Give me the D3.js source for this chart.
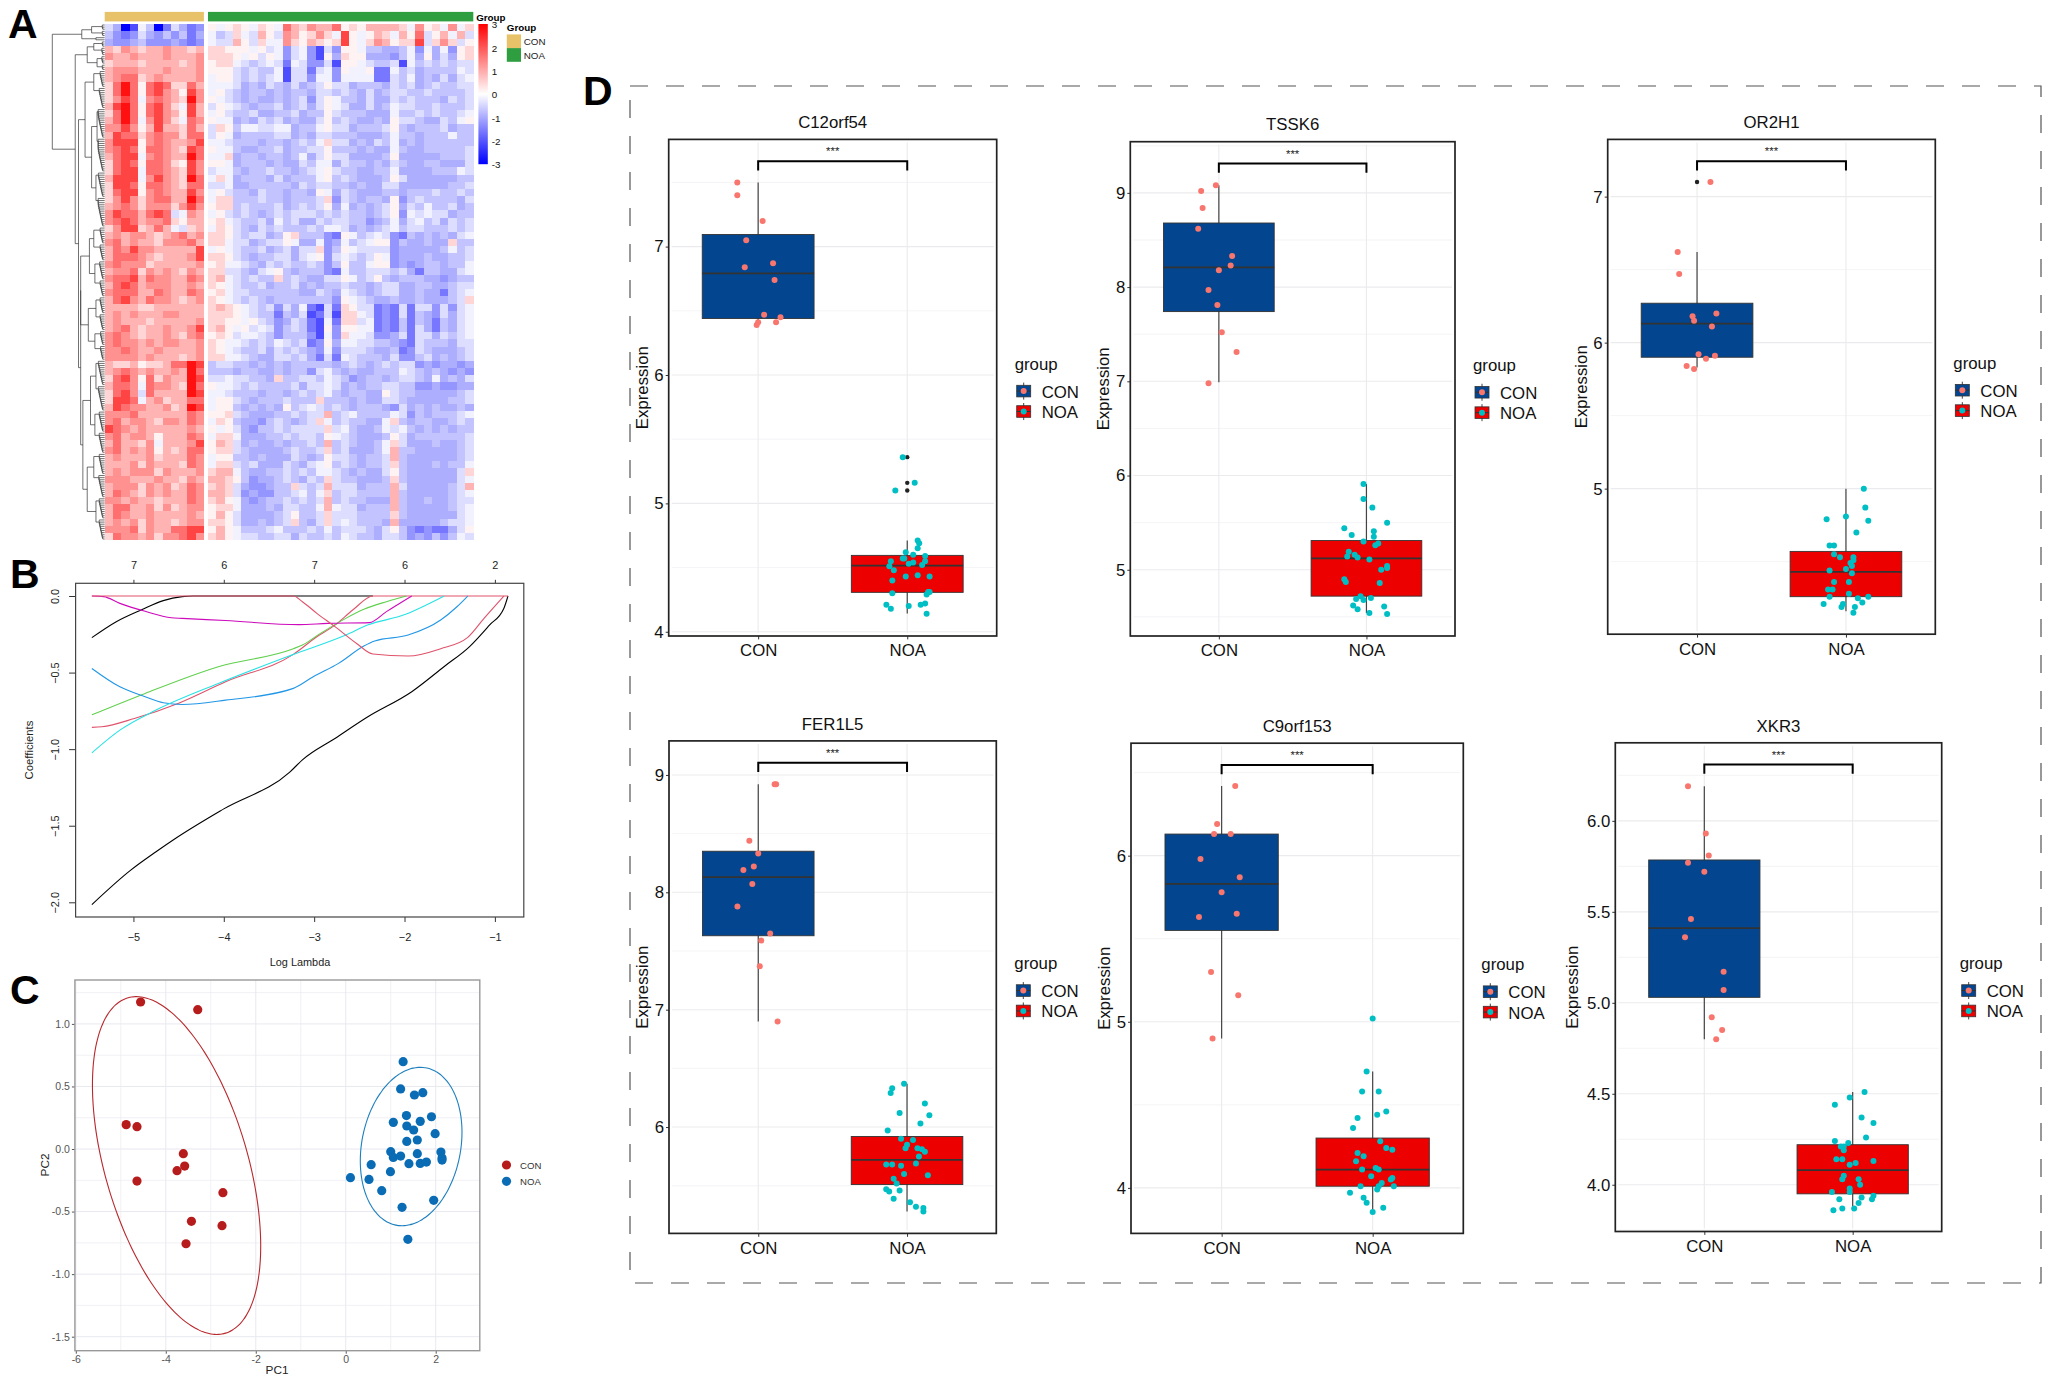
<!DOCTYPE html>
<html>
<head>
<meta charset="utf-8">
<style>
  body { margin: 0; background: #fff; }
  text { font-family: "Liberation Sans", Arial, sans-serif; }
</style>
<script src="https://cdn.jsdelivr.net/npm/d3@7"></script>
</head>
<body>
<svg id="fig" width="2050" height="1382"></svg>
<script>
// ---- panel A data
var heatLetters = "abcdefghijklmno";
var heatLevels = [-3, -2.1, -1.6, -1.25, -0.95, -0.7, -0.4, -0.15, 0.15, 0.5, 0.9, 1.3, 1.7, 2.2, 2.8];
// one string per row band: 12 CON samples then 32 NOA samples
var heatRows = [
  "geab hfac gecd ihij ihji hmkj lkkm ijik kkkj hlij hlhj",
  "fdcd gedf dfce hfgj hgki glki jljh nihi kjhk imgi khkg",
  "edde fddd edcd hggk igjh hlji kjij nihj lkij jngj ljgi",
  "kjlk jkkl kkjk jjii ihig hdgh dbgd iihf feef hdhe hdij",
  "lkkl kkkl kkkl jjji higi hdgh dbie jiie eedf heie geij",
  "jkkk jkkk kjkl ijjh gfgh gchg ddgb iihg ffgb hfgf gfgg",
  "klll kkkl kkkl iiig fgff hbgg cghd ihhi cchf geff ffhg",
  "klmm jklk kkkl hiig fgfg hbgg dhhd hhhh ccgf hefe gegh",
  "jmom imnm jjmk hhhg efeg fege fgig geff fegf gefg ffgg",
  "jmom imnl kinl higf effe feff eggf gfeg efgg ffgf fffg",
  "jlnm hlml kjol ihgf efee fefg dgih ffeg eegf gfff egfg",
  "knom imnl jhnk gihg feff gefg egih geeg efhg gffg fffg",
  "jmom imnl kink higf fgee ffge ffig fffe eehf fgfg ffgh",
  "kmom hlnl jhml ihhe fegf gefe egif gfee feig gfee gfhi",
  "llnl iknk kjmk gjif hhgg hhef fhig geff fgif efff geff",
  "knmm jlml ljmm gihe ffff ggef eggf ffee efhf feff fhff",
  "lnnn ilml kkln hhgf ffef fefg fhjg gefe gfhe feff ffff",
  "lmnm imml kjnm ihhf eeff geff ggif ffef eehf eeff fffg",
  "kmnn hlml kkom hhje ffef fefh egig geee efie eeee fffg",
  "jmnm imml jinl iihe fffe feeg fhhe gffe fegf eeff eeeg",
  "jmnn hmml kjnl ghhf effg ffef ghig ffee ffhe eeef ffhg",
  "knnn hlnl kjom hjhe fffe geff fhif gfee efig eeee eeff",
  "jnnm imml kjmm gghe efff ffeg fggf fefe egge eeee effg",
  "jmnn ilml kknl higf fegf feff eihe gfee effe fffg ffgf",
  "jlnl jlmm kkom hjjf ffgf feff fgjd gfef feid fgff ffeg",
  "klml jlll jlnl ijjf gfff gefg fgie hefe fgie gfhf fgef",
  "lnmm kmnm ghlk higf gfef gfgg gfgf gffe fgid hghg geff",
  "lmnm kllm jikk ijhg ffge hfge egfg gffd efhe ghfg egfg",
  "jlnn jkmk hgjk hjig fegf gfff gfhh gefe fghf ggff fgfg",
  "klkl lkjk lmkl jjig fgge fijf ffdc ihfg hgdc fefe fegh",
  "lmkl kkjl llmk jjhg gefg gihe ehde hfgh iidf eefe ejff",
  "kmln llkk kkkn hihg ffge fgeg gjdf ihgg ggde eeee fhfg",
  "kmmm lkjk kkln jjig feff ggeg hidg hgfg ihde eefe effg",
  "lmll ljkk kkkl ijhh gfeg fgff gfdf iffh iide deff effh",
  "kllm jlkl kjlk jjgg fegh ifef ffdc hffg ggfg ecff eegh",
  "lmmn kmll kkml jkhg fgff jfgf eegg ihfg ifef ffee deff",
  "kmnm klll kklk jihg ffge ffge feff gffe fgge effe efgg",
  "lmmm kkml kkml ijhg gfff fffe egfe hgfe fgge efee cfgh",
  "kmnl kmll kjkl jihg fgfe ffff fffd ihgf eefe efee efgj",
  "kkkk jjkk kkkk jkji hgfg dgeh cbgc jigg cdcg cggd gdgh",
  "klkl kkkl lkkk jjji hgff cfeg bcgb jjhg cdcg cfed gegh",
  "klkk kjkk kkkl jjii higf degf cbhc jjgh cdcf cfec fegh",
  "klmk jkkl kkln jkih ighg dfgf cbid iihh cdcf cgec fegh",
  "lmlk jkkl kjlm ijig hhgf dfff dbhd jhhg ddeg cgge gfgh",
  "lmll klkl lkkl jihh gfgf hgfg cdie hhgg ffed cgff fegg",
  "llml kklk kkkl jihg ffge gfgf edhd gggf eefc dgfe eefg",
  "llll klkk kjkl jjhh gfee ggfg ecgc hgff fegd dfge fefg",
  "kjjk ijjk mmon fggf fefe feff fffe fgfe fgfg gded eede",
  "klml klkk lkom fffe ffee feff dghf efee fffh gfef eded",
  "jmnl imjl kkon gghg gffe jffg gfhg fdef fefg gfeh efeg",
  "kmml hmll kjom ihhg fgff ffge gghg efef fggf fdde ddee",
  "jmnl gmkk kkon hhgf ffef fefg fghf effe eigf feee eefg",
  "jnnm hklj kkmm hiig feff fgff fjff fefe eggf eeee effg",
  "knml lkkl jkon hiif efef eifg hgfg feff fedg efef eefe",
  "lllm kkkk kkml iijg feee ffgf ggkf ghff ffhg dfef ffgh",
  "lmkl lkjl lkml hjif eedf gfef gjhf gffe ehjf effe efgf",
  "nmlk lkkk kklk ihig edff gfgg ggjg hfee fhgh fefe feff",
  "lmkl lkik kkml hjjh eeef fgfg gfih gfee efig efff fffg",
  "kmkk jlhk kkln ikjg efee feff gfkf gfee fhjg eeef eefg",
  "lmkl klik jkmm ijjg feee efgf fgjf geee fhkf feee eefg",
  "klkk kljk kkml hiif fefe eegf efig gfef fgkf eeee eefg",
  "kkkl jlkk kjml hjjg fgee egfe ghif gfef fgjf eeef effh",
  "klkl lljl kkkl jkkh feef fgfg fhhg fefe egif eeee eegj",
  "lllk kklk kjlk kkji fdee fgfe gfjg ffee efjf eeee eegh",
  "klll jlkl jkml jkjg edde ffjg fgkg ggef ffkg eeee efgk",
  "kmlk jlkl kkml kkjg dedd ffgh fhjf ggff ffkf eeee efgh",
  "llkl kkjk kkml jkih edef fgfg fgkf gffe eekf eefe efgg",
  "kmmk kljl jkll ijjh eeef eggf fhkh ggef ffkf eeee efgh",
  "kmlk klkk kklk ikig eeee fgif fgjg ggff ffjf eeee eegh",
  "klkl jlkk jkll jjig eefe fgjf egjg hgff feke eeee fggh",
  "lllm jlkk mmnn ikih fffg hfff gfhf gggf egif dcdc cegi",
  "jmll kljl lmnl jkih ggff ggeg ffgf hgff eggf dedf dfhg"
];
var heatGroups = ["CON", "NOA"];
var heatGroupCounts = [12, 32];
var heatLegendTicks = [3, 2, 1, 0, -1, -2, -3];
// dendrogram: [height, child, child]; a bare number is a run of that many leaves
var dendroTree = [48,
  [21, [12, 3, 3], [8, 1, 1]],
  [27,
    [16, [10, 3, 4], [7, 4, 3]],
    [24,
      [18, [10, 8, 10], [12, [7, 14, 16], [8, 12, 14]]],
      [22,
        [22, [14, [10, 8, 8], [9, 9, 8]], [15, [8, 8, 8], [9, 7, 7]]],
        [20, [13, [8, 12, 12], [9, 10, 10]], [16, [10, 10, 11], [8, 10, 10]]]
      ]
    ]
  ]
];

// ---- panel B data, [log lambda, coefficient]
var lassoBlackLow = [[-5.46,-2.015],[-5.03,-1.79],[-4.75,-1.67],[-4.54,-1.585],[-4,-1.39],[-3.27,-1.15],[-3.13,-1.07],[-2.77,-0.93],[-2.41,-0.79],[-1.92,-0.625],[-1.56,-0.46],[-1.28,-0.33],[-1.06,-0.19],[-0.9,-0.08],[-0.855,0]];
var lassoBlackTop = [[-5.46,-0.272],[-5.19,-0.168],[-4.91,-0.09],[-4.67,-0.03],[-4.46,-0.004],[-4.34,0],[-2.35,0]];
var lassoPinkA = [[-5.46,-0.858],[-5.35,-0.854],[-4.99,-0.8],[-4.5,-0.7],[-3.98,-0.56],[-3.23,-0.381],[-2.97,-0.266],[-2.77,-0.19],[-2.57,-0.09],[-2.35,0],[-0.855,0]];
var lassoPinkB = [[-5.46,0],[-3.23,0],[-3.13,-0.037],[-2.97,-0.113],[-2.77,-0.2],[-2.53,-0.31],[-2.35,-0.379],[-1.96,-0.392],[-1.6,-0.344],[-1.3,-0.27],[-1.12,-0.146],[-0.9,0]];
var lassoGreen = [[-5.46,-0.776],[-4.87,-0.636],[-4.06,-0.462],[-3.23,-0.344],[-3.13,-0.32],[-2.93,-0.244],[-2.65,-0.146],[-2.45,-0.087],[-2.2,-0.037],[-1.98,0]];
var lassoBlue = [[-5.46,-0.473],[-5.15,-0.593],[-4.87,-0.658],[-4.67,-0.697],[-4.46,-0.708],[-3.98,-0.68],[-3.23,-0.603],[-3.01,-0.527],[-2.73,-0.44],[-2.45,-0.327],[-2.33,-0.294],[-1.96,-0.255],[-1.6,-0.157],[-1.42,-0.07],[-1.3,0]];
var lassoCyan = [[-5.46,-1.024],[-5.15,-0.876],[-4.75,-0.745],[-4.06,-0.571],[-3.25,-0.386],[-2.65,-0.255],[-2.41,-0.19],[-1.98,-0.118],[-1.76,-0.059],[-1.56,0]];
var lassoMagenta = [[-5.46,0],[-5.33,-0.004],[-5.15,-0.048],[-4.87,-0.1],[-4.58,-0.142],[-4.46,-0.146],[-3.98,-0.16],[-3.17,-0.187],[-2.85,-0.179],[-2.39,-0.174],[-2.2,-0.102],[-1.92,0]];
var lassoTopTicks = [-5, -4, -3, -2, -1];
var lassoTopLabels = ["7", "6", "7", "6", "2"];

// ---- panel C data, [PC1, PC2]
var pcaCon = [[-4.56,1.175],[-3.29,1.114],[-4.88,0.195],[-4.64,0.179],[-3.61,-0.037],[-3.58,-0.136],[-3.75,-0.173],[-4.64,-0.256],[-2.73,-0.349],[-3.43,-0.578],[-2.75,-0.613],[-3.55,-0.757]];
var pcaNoa = [[1.276,0.698],[1.22,0.48],[1.527,0.432],[1.713,0.45],[1.349,0.267],[1.906,0.258],[1.058,0.213],[1.656,0.221],[1.357,0.184],[1.51,0.152],[1.987,0.123],[1.357,0.061],[1.591,0.072],[1,-0.021],[1.058,-0.067],[1.22,-0.056],[1.591,-0.037],[2.116,-0.024],[2.141,-0.072],[2.141,-0.088],[0.565,-0.125],[1.405,-0.117],[1.656,-0.115],[1.793,-0.104],[0.994,-0.181],[0.105,-0.229],[0.517,-0.243],[0.8,-0.333],[1.955,-0.41],[1.252,-0.466],[1.381,-0.722]];
// ellipse: centre x, centre y, half width, half height, correlation
var pcaEllipseCon = [-3.76, -0.132, 1.87, 1.35, -0.477];
var pcaEllipseNoa = [1.454, 0.02, 1.13, 0.633, 0.18];

// ---- panel D data
var geneNames = ["C12orf54", "TSSK6", "OR2H1", "FER1L5", "C9orf153", "XKR3"];
var boxGroups = ["CON", "NOA"];
// [low whisker, q1, median, q3, high whisker]
var boxStatsCon = [[6.38,6.44,6.792,7.094,7.5],[6.99,7.74,8.21,8.68,9.08],[5.83,5.9,6.13,6.27,6.62],[6.9,7.63,8.13,8.35,8.92],[4.9,5.55,5.83,6.13,6.42],[4.8,5.03,5.41,5.785,6.19]];
var boxStatsNoa = [[4.143,4.307,4.515,4.595,4.71],[4.54,4.72,5.12,5.31,5.91],[4.16,4.26,4.43,4.57,5],[5.28,5.51,5.72,5.92,6.37],[3.855,4.01,4.11,4.3,4.7],[3.88,3.95,4.08,4.22,4.51]];
var outliersCon = [[],[],[7.1],[],[],[]];
var outliersNoa = [[5.36,5.16,5.1],[],[],[],[],[]];
var yTicksList = [[4,5,6,7],[5,6,7,8,9],[5,6,7],[6,7,8,9],[4,5,6],[4,4.5,5,5.5,6]];
var yDomains = [[3.967,7.835],[4.297,9.543],[4.003,7.392],[5.094,9.29],[3.726,6.677],[3.743,6.429]];
// jittered samples, [offset from category, expression]
var jitterCon = [
  [[-0.14,7.5],[-0.14,7.4],[0.03,7.2],[-0.08,7.05],[0.1,6.87],[-0.09,6.84],[0.11,6.74],[0.04,6.47],[0.15,6.45],[0,6.41],[0.12,6.41],[-0.01,6.39]],
  [[-0.02,9.08],[-0.12,9.02],[-0.11,8.84],[-0.14,8.62],[0.09,8.33],[0.08,8.23],[0,8.18],[-0.07,7.97],[-0.01,7.81],[0.02,7.52],[0.12,7.31],[-0.07,6.98]],
  [[0.09,7.1],[-0.13,6.62],[-0.12,6.47],[0.13,6.2],[-0.03,6.18],[-0.02,6.15],[0.1,6.11],[0.01,5.92],[0.06,5.89],[0.12,5.91],[-0.07,5.84],[-0.02,5.82]],
  [[0.11,8.92],[0.12,8.92],[-0.06,8.44],[0,8.33],[-0.03,8.22],[-0.1,8.19],[-0.04,8.07],[-0.14,7.88],[0.08,7.65],[0.02,7.59],[0.01,7.37],[0.13,6.9]],
  [[0.09,6.42],[-0.03,6.19],[-0.05,6.13],[0.06,6.13],[-0.14,5.98],[0.12,5.87],[0,5.78],[0.1,5.65],[-0.15,5.63],[-0.07,5.3],[0.11,5.16],[-0.06,4.9]],
  [[-0.11,6.19],[0.01,5.93],[0.03,5.81],[-0.11,5.77],[0,5.72],[-0.09,5.46],[-0.13,5.36],[0.13,5.17],[0.13,5.07],[0.05,4.92],[0.12,4.85],[0.08,4.8]]
];
var jitterNoa = [
  [[-0.03,5.36],[0.05,5.16],[-0.08,5.1],[0.07,4.71],[0.08,4.69],[0.07,4.65],[-0.01,4.62],[0.04,4.6],[0.12,4.59],[-0.11,4.55],[-0.03,4.57],[-0.02,4.57],[0.04,4.54],[0.12,4.55],[0.01,4.53],[0.1,4.52],[-0.12,4.51],[-0.09,4.48],[-0.01,4.43],[0.07,4.44],[0.15,4.43],[-0.1,4.4],[0.15,4.31],[0.14,4.31],[-0.1,4.3],[0.13,4.29],[0.01,4.2],[-0.14,4.21],[-0.11,4.18],[0.09,4.21],[0.12,4.22],[0.13,4.14]],
  [[-0.02,5.91],[-0.02,5.75],[0.04,5.66],[0.14,5.5],[-0.15,5.44],[0.05,5.41],[-0.1,5.37],[0.05,5.35],[-0.02,5.3],[0.06,5.26],[0.08,5.28],[-0.12,5.19],[-0.08,5.16],[-0.13,5.14],[-0.06,5.13],[0.02,5.11],[0.14,5.04],[0.14,5.02],[0.1,5],[-0.15,4.9],[-0.14,4.87],[0.09,4.86],[-0.04,4.72],[-0.07,4.69],[0.03,4.7],[-0.02,4.68],[-0.09,4.62],[0.12,4.61],[-0.06,4.58],[0.02,4.54],[0.14,4.53]],
  [[0.12,5],[0.13,4.87],[0,4.81],[-0.13,4.79],[0.15,4.78],[0.07,4.7],[-0.11,4.61],[-0.08,4.61],[-0.08,4.55],[-0.04,4.53],[0.05,4.53],[0.05,4.51],[0.03,4.49],[0.04,4.47],[0,4.45],[-0.11,4.44],[0.04,4.42],[-0.08,4.36],[0.02,4.36],[-0.12,4.31],[-0.09,4.31],[-0.11,4.26],[0.02,4.28],[0.08,4.25],[0.15,4.26],[0.11,4.22],[-0.15,4.21],[-0.02,4.21],[-0.03,4.19],[0.06,4.19],[0.05,4.15]],
  [[-0.02,6.37],[-0.1,6.33],[-0.11,6.29],[0.12,6.2],[0.15,6.1],[-0.05,6.12],[0.09,6.03],[-0.13,5.97],[-0.04,5.9],[0.04,5.89],[0,5.85],[-0.01,5.82],[0.07,5.82],[0.1,5.81],[0.12,5.79],[0.08,5.75],[0.06,5.69],[-0.14,5.68],[-0.1,5.68],[-0.04,5.67],[-0.02,5.6],[0.14,5.59],[-0.09,5.56],[-0.07,5.52],[-0.14,5.47],[-0.12,5.45],[-0.05,5.46],[-0.09,5.39],[0.02,5.36],[0.06,5.32],[0.11,5.31],[0.11,5.28]],
  [[0,5.02],[-0.04,4.7],[-0.07,4.58],[0.04,4.58],[0.09,4.46],[0.03,4.44],[-0.1,4.42],[-0.13,4.36],[0.05,4.28],[0.09,4.24],[0.13,4.23],[-0.1,4.21],[-0.06,4.19],[-0.11,4.16],[-0.07,4.11],[0.02,4.12],[0.04,4.11],[-0.01,4.07],[0.13,4.06],[0.12,4.05],[0.06,4.03],[0.14,4.01],[0.04,4.01],[-0.08,4.01],[0.03,3.99],[-0.15,3.97],[-0.06,3.94],[-0.04,3.91],[0.07,3.88],[0,3.855]],
  [[0.08,4.51],[-0.02,4.48],[-0.12,4.44],[0.06,4.37],[0.14,4.34],[0.09,4.26],[-0.12,4.24],[-0.03,4.23],[-0.08,4.21],[-0.06,4.21],[-0.06,4.19],[-0.11,4.14],[-0.07,4.14],[0.02,4.12],[0.14,4.13],[-0.02,4.11],[-0.06,4.05],[-0.07,4.03],[0.04,4.03],[0.05,4],[-0.02,3.98],[-0.02,3.96],[-0.14,3.96],[0.14,3.94],[0.06,3.93],[0.13,3.92],[-0.09,3.92],[0.04,3.9],[0.01,3.87],[-0.07,3.87],[-0.13,3.86]]
];

// ---- layout only
var panelFrames = [[668.7,996.7,139.4,636],[1130.3,1455,141.7,636],[1607.7,1935.3,139.4,634.2],[669,996.3,740.9,1233.4],[1131,1463.3,743.2,1233.4],[1615.3,1941.7,742.8,1231.5]];
var exprGaps = [21,21,21,21,21,37];

var svg = d3.select("#fig");
svg.append("rect").attr("width", 2050).attr("height", 1382).attr("fill", "#fff");

// panel letters
[["A",8,38],["B",10,588],["C",10,1004],["D",583,105]].forEach(function(l) {
  svg.append("text").attr("x", l[1]).attr("y", l[2]).text(l[0])
    .attr("font-size", 41).attr("font-weight", "bold").attr("fill", "#000");
});

//Making the heatmap
var heatColor = d3.scaleLinear().domain([-3, 0, 3]).range(["#0000ff", "#ffffff", "#ff0000"]);
var rowBand = d3.scaleBand().domain(d3.range(heatRows.length)).range([24.2, 540]);
var conBand = d3.scaleBand().domain(d3.range(heatGroupCounts[0])).range([104.7, 203.9]);
var noaBand = d3.scaleBand().domain(d3.range(heatGroupCounts[1])).range([208, 473.3]);
var heatG = svg.append("g").attr("shape-rendering", "crispEdges");

heatRows.forEach(function(row, r) {
  var codes = row.replace(/ /g, "").split("");
  heatG.selectAll(null).data(codes).enter().append("rect")
    .attr("x", function(d, i) { return i < 12 ? conBand(i) : noaBand(i - 12); })
    .attr("y", rowBand(r))
    .attr("width", function(d, i) { return (i < 12 ? conBand.bandwidth() : noaBand.bandwidth()) + 0.3; })
    .attr("height", rowBand.bandwidth() + 0.3)
    .attr("fill", function(d) { return heatColor(heatLevels[heatLetters.indexOf(d)]); });
});

svg.append("rect").attr("x", 104.7).attr("y", 11.9).attr("width", 99.2).attr("height", 9.5).attr("fill", "#E8C268");
svg.append("rect").attr("x", 208).attr("y", 11.9).attr("width", 265.3).attr("height", 9.5).attr("fill", "#2F9E41");
svg.append("text").attr("x", 476.2).attr("y", 20.5).text("Group")
  .attr("font-size", 9.8).attr("font-weight", "bold");

var grad = svg.append("defs").append("linearGradient").attr("id", "heatGrad")
  .attr("x1", 0).attr("x2", 0).attr("y1", 0).attr("y2", 1);
grad.selectAll("stop").data(heatLegendTicks).enter().append("stop")
  .attr("offset", function(d, i) { return i / 6; })
  .attr("stop-color", function(d) { return heatColor(d); });
svg.append("rect").attr("x", 478.4).attr("y", 24).attr("width", 9.4).attr("height", 140.2).attr("fill", "url(#heatGrad)");

var heatLegendY = d3.scaleLinear().domain([3, -3]).range([24.6, 164.6]);
var heatLegendAxis = svg.append("g").attr("transform", "translate(487.8,0)")
  .call(d3.axisRight(heatLegendY).tickValues(heatLegendTicks).tickSize(0).tickPadding(4).tickFormat(d3.format("d")));
heatLegendAxis.select(".domain").remove();
heatLegendAxis.selectAll("text").attr("font-size", 9.8).attr("fill", "#111")
  .style("font-family", "'Liberation Sans'").text(function(d) { return String(d); });

svg.append("text").attr("x", 506.8).attr("y", 31.4).text("Group").attr("font-size", 9.8).attr("font-weight", "bold");
heatGroups.forEach(function(g, i) {
  svg.append("rect").attr("x", 506.8).attr("y", 34.4 + i * 13.7).attr("width", 14.2).attr("height", 13.7)
    .attr("fill", i == 0 ? "#E8C268" : "#2F9E41");
  svg.append("text").attr("x", 523.8).attr("y", 44.8 + i * 13.7).text(g).attr("font-size", 9.8).attr("fill", "#222");
});

//Making the dendrogram
function expandLeaves(node) {
  if (typeof node == "number") {
    if (node == 1) return [0];
    return [Math.min(6, 1 + node * 0.4), [0], expandLeaves(node - 1)];
  }
  return [node[0]].concat(node.slice(1).map(expandLeaves));
}
var dendroRoot = d3.hierarchy(expandLeaves(dendroTree), function(d) {
  return d.length > 1 ? d.slice(1) : null;
});
var dendroX = d3.scaleLinear().domain([0, 48]).range([104.7, 52.3]);
var dendroLeaves = dendroRoot.leaves();
var dendroY = d3.scaleLinear().domain([0, dendroLeaves.length - 1]).range([25, 539]);
dendroLeaves.forEach(function(leaf, i) { leaf.yPos = dendroY(i); });
dendroRoot.eachAfter(function(n) {
  if (n.children) n.yPos = (n.children[0].yPos + n.children[n.children.length - 1].yPos) / 2;
});
var dendroPath = d3.path();
dendroRoot.each(function(n) {
  if (!n.children) return;
  var x = dendroX(n.data[0]);
  dendroPath.moveTo(x, n.children[0].yPos);
  dendroPath.lineTo(x, n.children[n.children.length - 1].yPos);
  n.children.forEach(function(c) {
    dendroPath.moveTo(x, c.yPos);
    dendroPath.lineTo(dendroX(c.data[0]), c.yPos);
  });
});
svg.append("path").attr("d", dendroPath.toString()).attr("fill", "none")
  .attr("stroke", "#333").attr("stroke-width", 0.7);

//Making the lasso paths
var lassoX = d3.scaleLinear().domain([-5.64, -0.68]).range([75.6, 523.8]);
var lassoY = d3.scaleLinear().domain([0.083, -2.096]).range([583.3, 917]);
var lassoLine = d3.line().curve(d3.curveMonotoneX)
  .x(function(d) { return lassoX(d[0]); }).y(function(d) { return lassoY(d[1]); });

function lassoText(sel) {
  sel.select(".domain").remove();
  sel.selectAll("line").attr("stroke", "#333");
  sel.selectAll("text").attr("font-size", 10.9).attr("fill", "#222").style("font-family", "'Liberation Sans'");
}

svg.append("g").attr("transform", "translate(0,917)")
  .call(d3.axisBottom(lassoX).tickValues(lassoTopTicks).tickSize(5).tickPadding(11).tickFormat(d3.format("d")))
  .call(lassoText);
svg.append("g").attr("transform", "translate(0,583.3)")
  .call(d3.axisTop(lassoX).tickValues(lassoTopTicks).tickSize(3.5).tickPadding(11)
    .tickFormat(function(d, i) { return lassoTopLabels[i]; }))
  .call(lassoText);
var lassoLeft = svg.append("g").attr("transform", "translate(75.6,0)")
  .call(d3.axisLeft(lassoY).tickValues([0, -0.5, -1, -1.5, -2]).tickSize(6.5).tickPadding(0).tickFormat(d3.format(".1f")))
  .call(lassoText);
lassoLeft.selectAll("text").attr("transform", "rotate(-90)")
  .attr("x", 0).attr("dx", 0).attr("y", -17).attr("dy", 0).attr("text-anchor", "middle");

[[lassoBlackLow,"#000"],[lassoBlackTop,"#000"],[lassoPinkA,"#DF536B"],[lassoGreen,"#61D04F"],[lassoBlue,"#2297E6"],[lassoCyan,"#28E2E5"],[lassoMagenta,"#CD0BBC"],[lassoPinkB,"#DF536B"]].forEach(function(s) {
  svg.append("path").attr("d", lassoLine(s[0])).attr("fill", "none").attr("stroke", s[1]).attr("stroke-width", 1.1);
});
svg.append("rect").attr("x", 75.6).attr("y", 583.3).attr("width", 448.2).attr("height", 333.7)
  .attr("fill", "none").attr("stroke", "#444").attr("stroke-width", 1.2);
svg.append("text").attr("x", 300).attr("y", 966).attr("text-anchor", "middle").text("Log Lambda").attr("font-size", 10.9).attr("fill", "#222");
svg.append("text").attr("transform", "translate(33,750) rotate(-90)").attr("text-anchor", "middle").text("Coefficients").attr("font-size", 11.3).attr("fill", "#222");

//Making the PCA scatter
var pcaLeft = 74.9, pcaRight = 479.8, pcaTop = 980, pcaBottom = 1350.7;
var pcaX = d3.scaleLinear().domain([-6.02, 2.98]).range([pcaLeft, pcaRight]);
var pcaY = d3.scaleLinear().domain([1.351, -1.612]).range([pcaTop, pcaBottom]);
var pcaXTicks = [-6, -4, -2, 0, 2];
var pcaYTicks = [-1.5, -1, -0.5, 0, 0.5, 1];
var pcaGrid = svg.append("g").attr("stroke", "#e8e8f0").attr("fill", "none");
d3.range(-6, 3, 1).forEach(function(v) {
  pcaGrid.append("line").attr("x1", pcaX(v)).attr("x2", pcaX(v)).attr("y1", pcaTop).attr("y2", pcaBottom)
    .attr("stroke-width", v % 2 == 0 ? 1 : 0.6);
});
d3.range(-1.5, 1.3, 0.25).forEach(function(v) {
  pcaGrid.append("line").attr("y1", pcaY(v)).attr("y2", pcaY(v)).attr("x1", pcaLeft).attr("x2", pcaRight)
    .attr("stroke-width", (v * 2) % 1 == 0 ? 1 : 0.6);
});

function pcaAxisStyle(sel) {
  sel.select(".domain").remove();
  sel.selectAll("line").attr("stroke", "#555");
  sel.selectAll("text").attr("font-size", 10.5).attr("fill", "#555").style("font-family", "'Liberation Sans'")
    .text(function(d) { return sel.attr("data-fmt") == "x" ? String(d) : d3.format(".1f")(d).replace("−", "-"); });
}
svg.append("g").attr("data-fmt", "x").attr("transform", "translate(0," + pcaBottom + ")")
  .call(d3.axisBottom(pcaX).tickValues(pcaXTicks).tickSize(3).tickPadding(2)).call(pcaAxisStyle);
svg.append("g").attr("data-fmt", "y").attr("transform", "translate(" + pcaLeft + ",0)")
  .call(d3.axisLeft(pcaY).tickValues(pcaYTicks).tickSize(3).tickPadding(2)).call(pcaAxisStyle);

var ellipseAngles = d3.range(0, 6.3, 0.05);
function ellipseLine(e) {
  var phase = Math.acos(e[4]);
  return d3.line().curve(d3.curveCardinalClosed)
    .x(function(t) { return pcaX(e[0] + e[2] * Math.cos(t)); })
    .y(function(t) { return pcaY(e[1] + e[3] * Math.cos(t + phase)); })(ellipseAngles);
}
svg.append("path").attr("d", ellipseLine(pcaEllipseCon)).attr("fill", "none").attr("stroke", "#B8282C").attr("stroke-width", 1.1);
svg.append("path").attr("d", ellipseLine(pcaEllipseNoa)).attr("fill", "none").attr("stroke", "#1C7FBE").attr("stroke-width", 1.1);

svg.selectAll(".pcaCon").data(pcaCon).enter().append("circle").attr("class", "pcaCon")
  .attr("cx", function(d) { return pcaX(d[0]); }).attr("cy", function(d) { return pcaY(d[1]); })
  .attr("r", 4.6).attr("fill", "#B71C1C");
svg.selectAll(".pcaNoa").data(pcaNoa).enter().append("circle").attr("class", "pcaNoa")
  .attr("cx", function(d) { return pcaX(d[0]); }).attr("cy", function(d) { return pcaY(d[1]); })
  .attr("r", 4.6).attr("fill", "#0A6CB4");
svg.append("rect").attr("x", pcaLeft).attr("y", pcaTop).attr("width", pcaRight - pcaLeft).attr("height", pcaBottom - pcaTop)
  .attr("fill", "none").attr("stroke", "#999").attr("stroke-width", 1.4);
svg.append("text").attr("x", 277).attr("y", 1374).attr("text-anchor", "middle").text("PC1").attr("font-size", 11.8).attr("fill", "#222");
svg.append("text").attr("transform", "translate(49,1165) rotate(-90)").attr("text-anchor", "middle").text("PC2").attr("font-size", 11.8).attr("fill", "#222");
heatGroups.forEach(function(g, i) {
  svg.append("circle").attr("cx", 506.5).attr("cy", 1165 + i * 16.3).attr("r", 4.6).attr("fill", i == 0 ? "#B71C1C" : "#0A6CB4");
  svg.append("text").attr("x", 520).attr("y", 1168.5 + i * 16.3).text(g).attr("font-size", 9.6).attr("fill", "#333");
});

//Dashed frame around the box plots
svg.append("rect").attr("x", 630).attr("y", 86).attr("width", 1411).attr("height", 1197)
  .attr("fill", "none").attr("stroke", "#555").attr("stroke-width", 1.2).attr("stroke-dasharray", "18 18");

//Making the box plots
var boxFills = ["#03468F", "#ED0000"];
var jitterFills = ["#F8766D", "#00BFC4"];

geneNames.forEach(function(gene, p) {
  var f = panelFrames[p];
  var g = svg.append("g");
  var x = d3.scaleLinear().domain([-0.6, 1.6]).range([f[0], f[1]]);
  var y = d3.scaleLinear().domain(yDomains[p]).range([f[3], f[2]]);
  var ticks = yTicksList[p];
  var step = ticks[1] - ticks[0];
  var minors = d3.range(ticks[0] - step / 2, yDomains[p][1], step).filter(function(v) { return v > yDomains[p][0]; });

  g.selectAll(".minor").data(minors).enter().append("line").attr("class", "minor")
    .attr("x1", f[0] + 3).attr("x2", f[1] - 3)
    .attr("y1", function(d) { return y(d); }).attr("y2", function(d) { return y(d); })
    .attr("stroke", "#efeff2").attr("stroke-width", 0.7);
  g.selectAll(".major").data(ticks).enter().append("line").attr("class", "major")
    .attr("x1", f[0] + 3).attr("x2", f[1] - 3)
    .attr("y1", function(d) { return y(d); }).attr("y2", function(d) { return y(d); })
    .attr("stroke", "#ebebee").attr("stroke-width", 1.1);
  [0, 1].forEach(function(c) {
    g.append("line").attr("x1", x(c)).attr("x2", x(c)).attr("y1", f[2] + 3).attr("y2", f[3] - 3)
      .attr("stroke", "#ebebee").attr("stroke-width", 1.1);
  });

  [boxStatsCon[p], boxStatsNoa[p]].forEach(function(s, c) {
    g.append("line").attr("x1", x(c)).attr("x2", x(c)).attr("y1", y(s[0])).attr("y2", y(s[4]))
      .attr("stroke", "#444").attr("stroke-width", 1.2);
    g.append("rect").attr("x", x(c - 0.375)).attr("width", x(0.75) - x(0))
      .attr("y", y(s[3])).attr("height", y(s[1]) - y(s[3]))
      .attr("fill", boxFills[c]).attr("stroke", "#333").attr("stroke-width", 0.9);
    g.append("line").attr("x1", x(c - 0.375)).attr("x2", x(c + 0.375)).attr("y1", y(s[2])).attr("y2", y(s[2]))
      .attr("stroke", "#333").attr("stroke-width", 1.8);
  });

  [outliersCon[p], outliersNoa[p]].forEach(function(list, c) {
    g.selectAll(".out" + c).data(list).enter().append("circle").attr("class", "out" + c)
      .attr("cx", x(c)).attr("cy", function(d) { return y(d); }).attr("r", 2.2).attr("fill", "#222");
  });
  [jitterCon[p], jitterNoa[p]].forEach(function(list, c) {
    g.selectAll(".pt" + c).data(list).enter().append("circle").attr("class", "pt" + c)
      .attr("cx", function(d) { return x(c + d[0]); }).attr("cy", function(d) { return y(d[1]); })
      .attr("r", 3).attr("fill", jitterFills[c]);
  });

  // significance bracket
  g.append("path").attr("d", d3.line()([[x(0), f[2] + 31], [x(0), f[2] + 21.8], [x(1), f[2] + 21.8], [x(1), f[2] + 31]]))
    .attr("fill", "none").attr("stroke", "#000").attr("stroke-width", 2);
  g.append("text").attr("x", (x(0) + x(1)) / 2).attr("y", f[2] + 16).attr("text-anchor", "middle")
    .text("***").attr("font-size", 11.4).attr("fill", "#222");

  var xAxis = g.append("g").attr("transform", "translate(0," + f[3] + ")")
    .call(d3.axisBottom(x).tickValues([0, 1]).tickSize(3.4).tickPadding(5).tickFormat(function(d) { return boxGroups[d]; }));
  var yAxis = g.append("g").attr("transform", "translate(" + f[0] + ",0)")
    .call(d3.axisLeft(y).tickValues(ticks).tickSize(3).tickPadding(2).tickFormat(d3.format(step < 1 ? ".1f" : "d")));
  [xAxis, yAxis].forEach(function(a) {
    a.select(".domain").remove();
    a.selectAll("line").attr("stroke", "#333");
    a.selectAll("text").attr("font-size", 16.8).attr("fill", "#111").style("font-family", "'Liberation Sans'");
  });
  g.append("rect").attr("x", f[0]).attr("y", f[2]).attr("width", f[1] - f[0]).attr("height", f[3] - f[2])
    .attr("fill", "none").attr("stroke", "#222").attr("stroke-width", 1.7);

  g.append("text").attr("x", (f[0] + f[1]) / 2).attr("y", f[2] - 11.3).attr("text-anchor", "middle")
    .text(gene).attr("font-size", 16.8).attr("fill", "#111");
  g.append("text").attr("transform", "translate(" + (f[0] - exprGaps[p]) + "," + (f[2] + f[3]) / 2 + ") rotate(-90)")
    .attr("text-anchor", "middle").text("Expression").attr("font-size", 16.8).attr("fill", "#111");

  // legend
  var lx = f[1] + 18;
  var ly = (f[2] + f[3]) / 2;
  g.append("text").attr("x", lx).attr("y", ly - 18).text("group").attr("font-size", 16.8).attr("fill", "#111");
  boxGroups.forEach(function(name, c) {
    var ky = ly + 3.4 + c * 20.4;
    g.append("line").attr("x1", lx + 9).attr("x2", lx + 9).attr("y1", ky - 8.5).attr("y2", ky + 8.5).attr("stroke", "#444");
    g.append("rect").attr("x", lx + 2).attr("y", ky - 5.8).attr("width", 14).attr("height", 11.6)
      .attr("fill", boxFills[c]).attr("stroke", "#333").attr("stroke-width", 0.8);
    g.append("line").attr("x1", lx + 2).attr("x2", lx + 16).attr("y1", ky).attr("y2", ky).attr("stroke", "#333");
    g.append("circle").attr("cx", lx + 9).attr("cy", ky).attr("r", 3).attr("fill", jitterFills[c]);
    g.append("text").attr("x", lx + 27).attr("y", ky + 6.5).text(name).attr("font-size", 16.8).attr("fill", "#111");
  });
});
</script>
</body>
</html>
